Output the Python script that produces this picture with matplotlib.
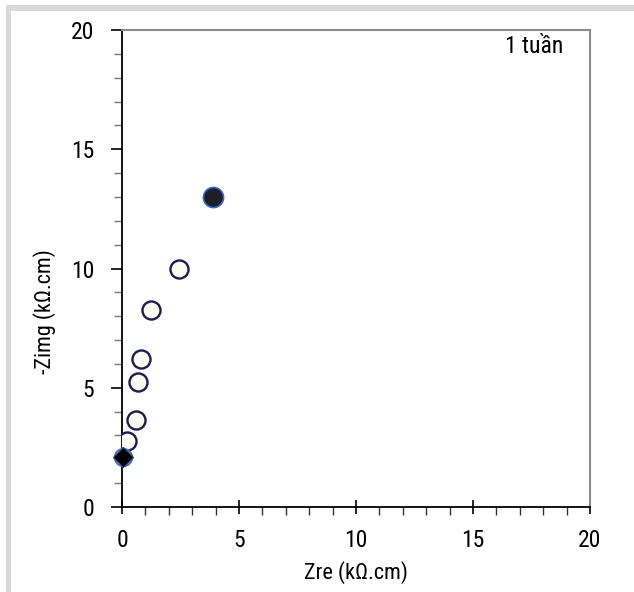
import matplotlib

matplotlib.use('Agg')
import matplotlib.pyplot as plt
from matplotlib.patches import Rectangle
from matplotlib.ticker import MultipleLocator

plt.rcParams['font.family'] = ['Roboto Condensed', 'Liberation Sans Narrow', 'Roboto', 'DejaVu Sans']

# open circles
zre_open = [0.2, 0.6, 0.7, 0.8, 1.24, 2.44]
zimg_open = [2.76, 3.66, 5.24, 6.22, 8.26, 10.0]
# filled end points
zre_start = [0.05]
zimg_start = [2.09]
zre_end = [3.89]
zimg_end = [13.0]

label_text = '1 tuần'

fig = plt.figure(figsize=(6.34, 5.92), dpi=100)
W, H = 634, 592
# light grey frame on top and left
fig.patches.append(Rectangle((6 / W, 1 - 11 / H), 1 - 6 / W, 6 / H, transform=fig.transFigure,
                             facecolor='#d9d9d9', edgecolor='none'))
fig.patches.append(Rectangle((6 / W, 0), 5 / W, 1 - 5 / H, transform=fig.transFigure,
                             facecolor='#d9d9d9', edgecolor='none'))

ax = fig.add_axes([122 / W, 1 - 507 / H, (590 - 122) / W, (507 - 30) / H])

ax.plot(zre_open, zimg_open, 'o', ms=13, mfc='#fbfbf3', mec='#1c1c4e', mew=1.7, zorder=3)
ax.plot(zre_start, zimg_start, 'o', ms=12.5, mfc='none', mec='#4a72c0', mew=1.4, zorder=4, clip_on=False)
ax.plot(zre_start, zimg_start, 'D', ms=10.5, mfc='black', mec='#2b3f7a', mew=0.8, zorder=5, clip_on=False)
ax.plot(zre_end, zimg_end, 'o', ms=14.5, mfc='#1e1e28', mec='#3a6ac8', mew=1.2, zorder=4)

ax.text(17.6, 19.3, label_text, fontsize=17, ha='center', va='center')

ax.set_xlim(0, 20)
ax.set_ylim(0, 20)
ax.xaxis.set_major_locator(MultipleLocator(5))
ax.xaxis.set_minor_locator(MultipleLocator(1))
ax.yaxis.set_major_locator(MultipleLocator(5))
ax.yaxis.set_minor_locator(MultipleLocator(1))

ax.tick_params(axis='x', which='major', direction='inout', length=10, width=1.2, labelsize=17, pad=11)
ax.tick_params(axis='x', which='minor', direction='out', length=6, width=1.0, color='#333333')
ax.tick_params(axis='y', which='major', direction='out', length=8, width=1.2, labelsize=17, pad=12)
ax.tick_params(axis='y', which='minor', direction='out', length=6, width=1.0, color='#777777')

for side in ('left', 'bottom'):
    ax.spines[side].set_color('black')
    ax.spines[side].set_linewidth(1.3)
for side in ('top', 'right'):
    ax.spines[side].set_color('#8a8a8a')
    ax.spines[side].set_linewidth(1.5)

ax.set_xlabel('Zre (kΩ.cm)', fontsize=16)
ax.set_ylabel('-Zimg (kΩ.cm)', fontsize=16)
ax.xaxis.set_label_coords(0.5, -0.113)
ax.yaxis.set_label_coords(-0.14, 0.41)

fig.savefig('out.png', dpi=100)
